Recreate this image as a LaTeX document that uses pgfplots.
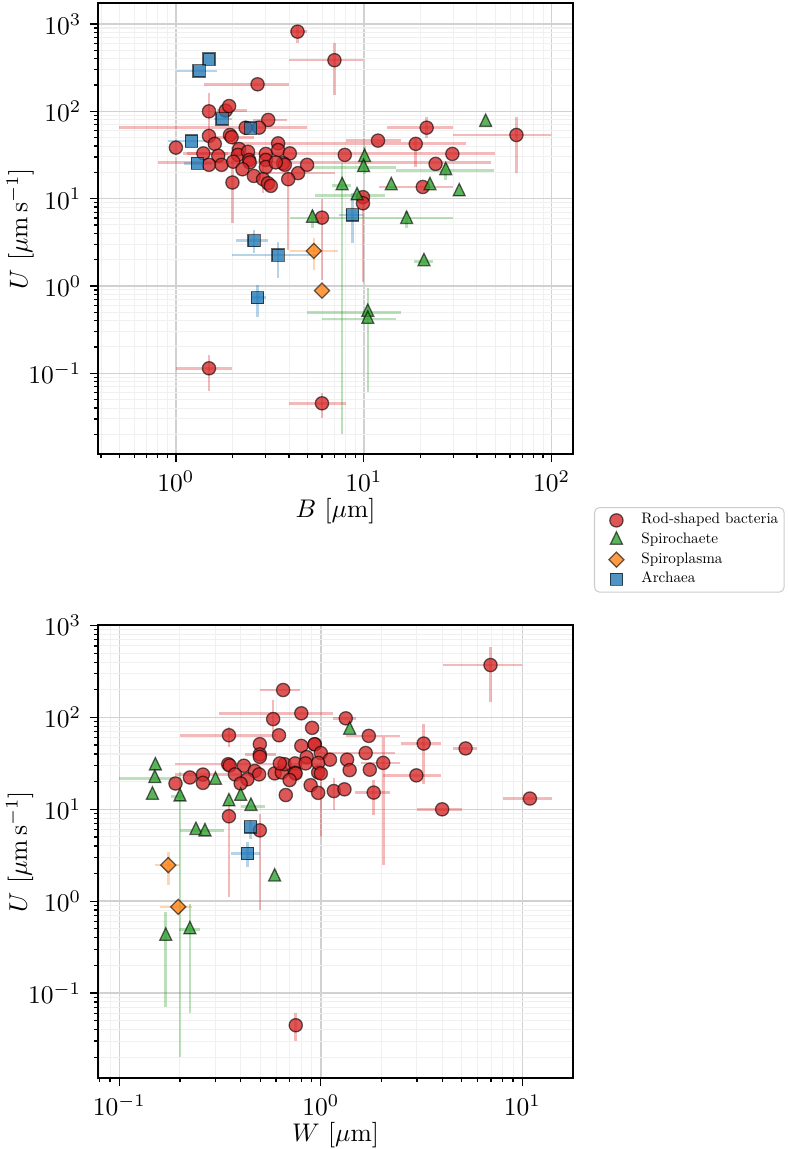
\documentclass[border=0pt]{standalone}
\usepackage{graphicx}
\usepackage{pgfplots}
\pgfplotsset{compat=1.18}
\usepackage{pgfplotstable}
\definecolor{tred}{HTML}{D62728}
\definecolor{tgreen}{HTML}{2CA02C}
\definecolor{torange}{HTML}{FF7F0E}
\definecolor{tblue}{HTML}{1F77B4}

\pgfplotstableread{
x y xm xp ym yp
4.44 818 0.40 0.52 206 159
6.98 385 2.98 2.92 231 227
2.72 204 1.31 1.28 0 0
1.50 100 0 0 33.4 61
1.84 102 0.19 0.54 0 0
1.92 115 0 0 0 0
3.10 79.7 0.52 0.78 0 0
2.35 65 1.85 2.61 0 0
2.77 65 0 0 0 0
1.50 52.3 0 0 12.9 14.3
1.94 53.6 0 0 0 0
1.98 50.5 0.38 0.62 0 0
1.00 38.4 0 0 0 0
1.61 42.4 0 0 0 0
1.40 33 0.25 0.5 0 0
1.68 31 0 0 0 0
2.17 37 0 0 0 0
2.14 31.7 0 0 0 0
2.42 34.4 0 0 0 0
2.45 27.7 0 0 0 0
2.47 26 0 0 0 0
3.01 32.5 0 0 0 0
3.01 27.7 0 0 0 0
3.01 23 0 0 0 0
3.50 43 1.5 31.5 0 0
3.50 36 0 0 0 0
4.04 33 2.95 45.6 0 0
3.72 25.4 0 0 0 0
3.80 24.4 0 0 0 0
3.40 26 2.6 44.3 0 0
4.47 19.6 1.47 2.53 0 0
4.99 24.4 0 0 0 0
3.96 16.7 0 0 14.1 13.3
1.50 24.4 0 0 0 0
1.75 24.4 0 0 0 0
2.02 26.5 0 0 0 0
2.26 21.7 0 0 0 0
2.60 18.2 0 0 0 0
2.91 16.7 0 0 5.2 13.3
3.09 15.0 0 0 0 0
3.20 14.0 0 0 0 0
2.00 15.3 0 0 10.1 23.7
7.92 31.7 0 0 0 0
5.99 6.06 0 0 4.89 3.94
11.9 46.2 3.83 3.9 0 0
21.6 65 8.3 8.4 15.7 20.5
64.9 53.6 34.9 34.4 34 33.5
18.9 42.4 0 0 19.1 6.9
29.6 32.5 0 0 0 0
24.1 25.0 0 0 0 0
20.6 13.6 8.6 9.2 0 0
9.9 10.4 0 0 0 0
9.9 8.85 0 0 7.73 3.15
1.50 0.114 0.5 0.5 0.0506 0.048
5.99 0.0453 1.99 2.01 0.0148 0.0137
}\topred

\pgfplotstableread{
x y xm xp ym yp
44.5 75 0 0 0 0
10.1 29.7 0 0 10.7 10.3
9.97 22.8 4.62 4.93 0 0
27.3 21.0 12.4 22.3 4.6 4.4
7.67 14.1 0.9 0.93 14.08 11.3
14.0 14.1 0 0 0 0
22.5 14.1 0 0 0 0
32.2 12.0 0 0 0 0
9.21 10.8 3.72 3.69 0 0
5.33 5.98 1.29 24.5 1.38 1.52
16.9 5.8 0 0 1.2 1.5
20.9 1.90 2.4 2.5 0 0
10.5 0.50 5.5 5.3 0.439 0.44
10.5 0.416 4.5 4.4 0 0
}\topgreen

\pgfplotstableread{
x y xm xp ym yp
5.42 2.52 1.38 1.88 0.99 1.0
5.99 0.884 0 0 0 0
}\toporange

\pgfplotstableread{
x y xm xp ym yp
1.50 395 0 0 0 0
1.33 290 0.32 0.32 0 0
1.76 81.8 0.16 0.24 0 0
2.50 64 0 0 0 0
1.21 45.7 0.3 0.25 0 0
1.30 25.4 0.2 0.25 0 0
8.7 6.5 1.3 1.2 3.42 5.1
2.61 3.30 0.51 0.49 0.9 1.1
3.50 2.26 1.5 2.1 1.04 0.96
2.72 0.734 0.17 0.28 0.289 0.296
}\topblue

\pgfplotstableread{
x y xm xp ym yp
0.65 199 0.152 0.14 0 0
0.58 96 0 0 28.5 58
0.80 111 0.487 0.35 0 0
0.905 77 0 0 0 0
0.62 64 0 0 0 0
0.35 64 0.15 0.25 16.3 14.5
0.498 51.2 0 0 0 0
0.498 39.6 0.078 0.102 0 0
0.498 37.3 0 0 0 0
0.80 49 0 0 0 0
0.934 51 0 0 0 0
0.85 37 0 0 0 0
0.347 31 0.157 0.653 0 0
0.353 30 0 0 0 0
0.415 29.8 0 0 0 0
0.47 26.1 0 0 0 0
0.494 24 0 0 0 0
0.375 24 0 0 0 0
0.432 21.2 0 0 0 0
0.40 19.1 0 0 0 0
0.59 24.6 0 0 0 0
0.64 25.2 0 0 0 0
0.66 31 0 0 0 0
0.626 31.6 0 0 0 0
0.745 31.6 0 0 0 0
0.745 25 0 0 0 0
0.75 24.5 0 0 0 0
0.70 20.8 0 0 0 0
0.84 31.6 0 0 0 0
0.89 18.3 0 0 0 0
0.67 14.3 0 0 0 0
0.97 25.2 0 0 0 0
0.97 15.1 0 0 0 0
0.26 23.9 0.07 0.19 0 0
0.26 19.4 0 0 0 0
0.224 22.2 0 0 0 0
0.19 19.1 0 0 0 0
0.35 8.4 0 0 7.29 3.6
0.498 5.9 0 0 5.1 3.1
0.751 0.0446 0 0 0.0146 0.0154
6.95 372 2.93 2.99 225 216
1.33 97.8 0.18 0.17 0 0
1.73 63 0.39 0.74 0 0
3.24 52 0.73 0.73 33 32.7
5.23 46 0.69 0.7 0 0
0.93 51 0 0 0 0
1.0 41 0 0 0 0
1.11 34.7 0 0 0 0
1.67 41 0.72 0.66 0 0
1.35 34.7 0 0 0 0
2.04 32 0.45 0.43 29.53 29
1.39 26.7 0 0 0 0
1.75 27 0 0 0 0
2.98 23.4 0.94 0.99 0 0
0.97 32 0 0 0 0
1.0 24.6 0 0 19.6 5.4
1.16 15.8 0 0 6.0 5.9
1.31 16.5 0 0 0 0
1.83 15.2 0.36 0.37 6.6 5.6
4.0 10.0 1.0 1.0 0 0
10.9 13.1 2.9 3.1 0 0
}\botred

\pgfplotstableread{
x y xm xp ym yp
0.151 29.8 0 0 0 0
0.150 21.7 0.05 0.04 0 0
0.146 14.3 0 0 0 0
0.20 13.7 0.02 0.01 13.68 11.7
0.30 20.8 0 0 0 0
0.35 12.1 0 0 0 0
0.40 13.9 0 0 0 0
0.45 10.8 0.05 0.08 0 0
0.24 5.9 0.04 0.09 0 0
0.266 5.7 0 0 0 0
0.59 1.84 0 0 0 0
0.17 0.416 0 0 0.345 0.344
0.224 0.49 0.026 0.026 0.43 0.45
1.39 73 0 0 0 0
}\botgreen

\pgfplotstableread{
x y xm xp ym yp
0.175 2.47 0.025 0.025 0.98 0.98
0.196 0.867 0.036 0.034 0 0
}\botorange

\pgfplotstableread{
x y xm xp ym yp
0.433 3.31 0.073 0.067 0.95 1.09
0.448 6.45 0 0 1.65 1.15
}\botblue

\pgfplotsset{
  legend image code/.code={\path[draw=none, fill=none] (0pt,-3.85pt) rectangle (16.1pt,3.85pt); \draw[#1] plot coordinates {(6.3pt,0pt)};},
  ser/.style={only marks, forget plot,
    error bars/x dir=both, error bars/x explicit,
    error bars/y dir=both, error bars/y explicit,
    error bars/error mark=none,
    error bars/error bar style={line width=1pt, color=#1, opacity=0.32}},
  mkred/.style={mark=*, mark size=2.6pt, mark options={fill=tred, fill opacity=0.78, draw=black, draw opacity=0.6, line width=0.5pt}},
  mkgreen/.style={mark=triangle*, mark size=2.7pt, mark options={yscale=1.2, fill=tgreen, fill opacity=0.78, draw=black, draw opacity=0.6, line width=0.5pt}},
  mkorange/.style={mark=square*, mark size=2.1pt, mark options={rotate=45, fill=torange, fill opacity=0.78, draw=black, draw opacity=0.6, line width=0.5pt}},
  mkblue/.style={mark=square*, mark size=2.4pt, mark options={fill=tblue, fill opacity=0.78, draw=black, draw opacity=0.6, line width=0.5pt}},
}

\begin{document}
\begin{tikzpicture}
\path[use as bounding box] (0,0) rectangle (308.63pt,450.59pt);
\begin{axis}[xmode=log, ymode=log, scale only axis,
  grid=both, major grid style={black!18, line width=0.6pt},
  minor grid style={black!6, line width=0.4pt},
  tick align=outside, xtick pos=left, ytick pos=left,
  axis line style={line width=0.8pt},
  tick style={black, line width=0.5pt},
  major tick length=3pt, minor tick length=1.6pt,
  ytick={0.1,1,10,100,1000},
  minor ytick={0.02,0.03,0.04,0.05,0.06,0.07,0.08,0.09,0.2,0.3,0.4,0.5,0.6,0.7,0.8,0.9,2,3,4,5,6,7,8,9,20,30,40,50,60,70,80,90,200,300,400,500,600,700,800,900},
  ylabel={$U$ [$\mu\mathrm{m\,s^{-1}}$]},
  ylabel style={at={(axis description cs:-0.164,0.5)}, anchor=center},
  xlabel style={at={(axis description cs:0.5,-0.1266)}, anchor=center},
  ymin=0.0118,
  at={(38.43pt,272.43pt)}, anchor=south west,
  width=186.27pt, height=176.98pt,
  xmin=0.385, xmax=129.8, ymax=1740,
  xtick={1,10,100},
  minor xtick={0.4,0.5,0.6,0.7,0.8,0.9,2,3,4,5,6,7,8,9,20,30,40,50,60,70,80,90},
  xlabel={$B$ [$\mu$m]},
  legend style={at={(1.0442,-0.1168)}, anchor=north west, draw=black!20,
    rounded corners=2pt, inner xsep=2.3pt, inner ysep=1.2pt,
    column sep=0pt, row sep=0pt, nodes={inner sep=0pt},
    legend cell align=left},
]
\addlegendimage{only marks, mkred}\addlegendentry{\scalebox{0.595}{Rod-shaped bacteria}}
\addlegendimage{only marks, mkgreen}\addlegendentry{\scalebox{0.595}{Spirochaete}}
\addlegendimage{only marks, mkorange}\addlegendentry{\scalebox{0.595}{Spiroplasma}}
\addlegendimage{only marks, mkblue}\addlegendentry{\scalebox{0.595}{Archaea}}
\addplot[ser=tred, mkred] table[x=x, y=y, x error minus=xm, x error plus=xp, y error minus=ym, y error plus=yp] {\topred};
\addplot[ser=tgreen, mkgreen] table[x=x, y=y, x error minus=xm, x error plus=xp, y error minus=ym, y error plus=yp] {\topgreen};
\addplot[ser=torange, mkorange] table[x=x, y=y, x error minus=xm, x error plus=xp, y error minus=ym, y error plus=yp] {\toporange};
\addplot[ser=tblue, mkblue] table[x=x, y=y, x error minus=xm, x error plus=xp, y error minus=ym, y error plus=yp] {\topblue};
\end{axis}
\begin{axis}[xmode=log, ymode=log, scale only axis,
  grid=both, major grid style={black!18, line width=0.6pt},
  minor grid style={black!6, line width=0.4pt},
  tick align=outside, xtick pos=left, ytick pos=left,
  axis line style={line width=0.8pt},
  tick style={black, line width=0.5pt},
  major tick length=3pt, minor tick length=1.6pt,
  ytick={0.1,1,10,100,1000},
  minor ytick={0.02,0.03,0.04,0.05,0.06,0.07,0.08,0.09,0.2,0.3,0.4,0.5,0.6,0.7,0.8,0.9,2,3,4,5,6,7,8,9,20,30,40,50,60,70,80,90,200,300,400,500,600,700,800,900},
  ylabel={$U$ [$\mu\mathrm{m\,s^{-1}}$]},
  ylabel style={at={(axis description cs:-0.164,0.5)}, anchor=center},
  xlabel style={at={(axis description cs:0.5,-0.126)}, anchor=center},
  ymin=0.0118,
  at={(38.31pt,27.73pt)}, anchor=south west,
  width=186.51pt, height=177.64pt,
  xmin=0.0781, xmax=17.9, ymax=1007,
  xtick={0.1,1,10},
  minor xtick={0.08,0.09,0.2,0.3,0.4,0.5,0.6,0.7,0.8,0.9,2,3,4,5,6,7,8,9},
  xlabel={$W$ [$\mu$m]},
]
\addplot[ser=tred, mkred] table[x=x, y=y, x error minus=xm, x error plus=xp, y error minus=ym, y error plus=yp] {\botred};
\addplot[ser=tgreen, mkgreen] table[x=x, y=y, x error minus=xm, x error plus=xp, y error minus=ym, y error plus=yp] {\botgreen};
\addplot[ser=torange, mkorange] table[x=x, y=y, x error minus=xm, x error plus=xp, y error minus=ym, y error plus=yp] {\botorange};
\addplot[ser=tblue, mkblue] table[x=x, y=y, x error minus=xm, x error plus=xp, y error minus=ym, y error plus=yp] {\botblue};
\end{axis}
\end{tikzpicture}
\end{document}
